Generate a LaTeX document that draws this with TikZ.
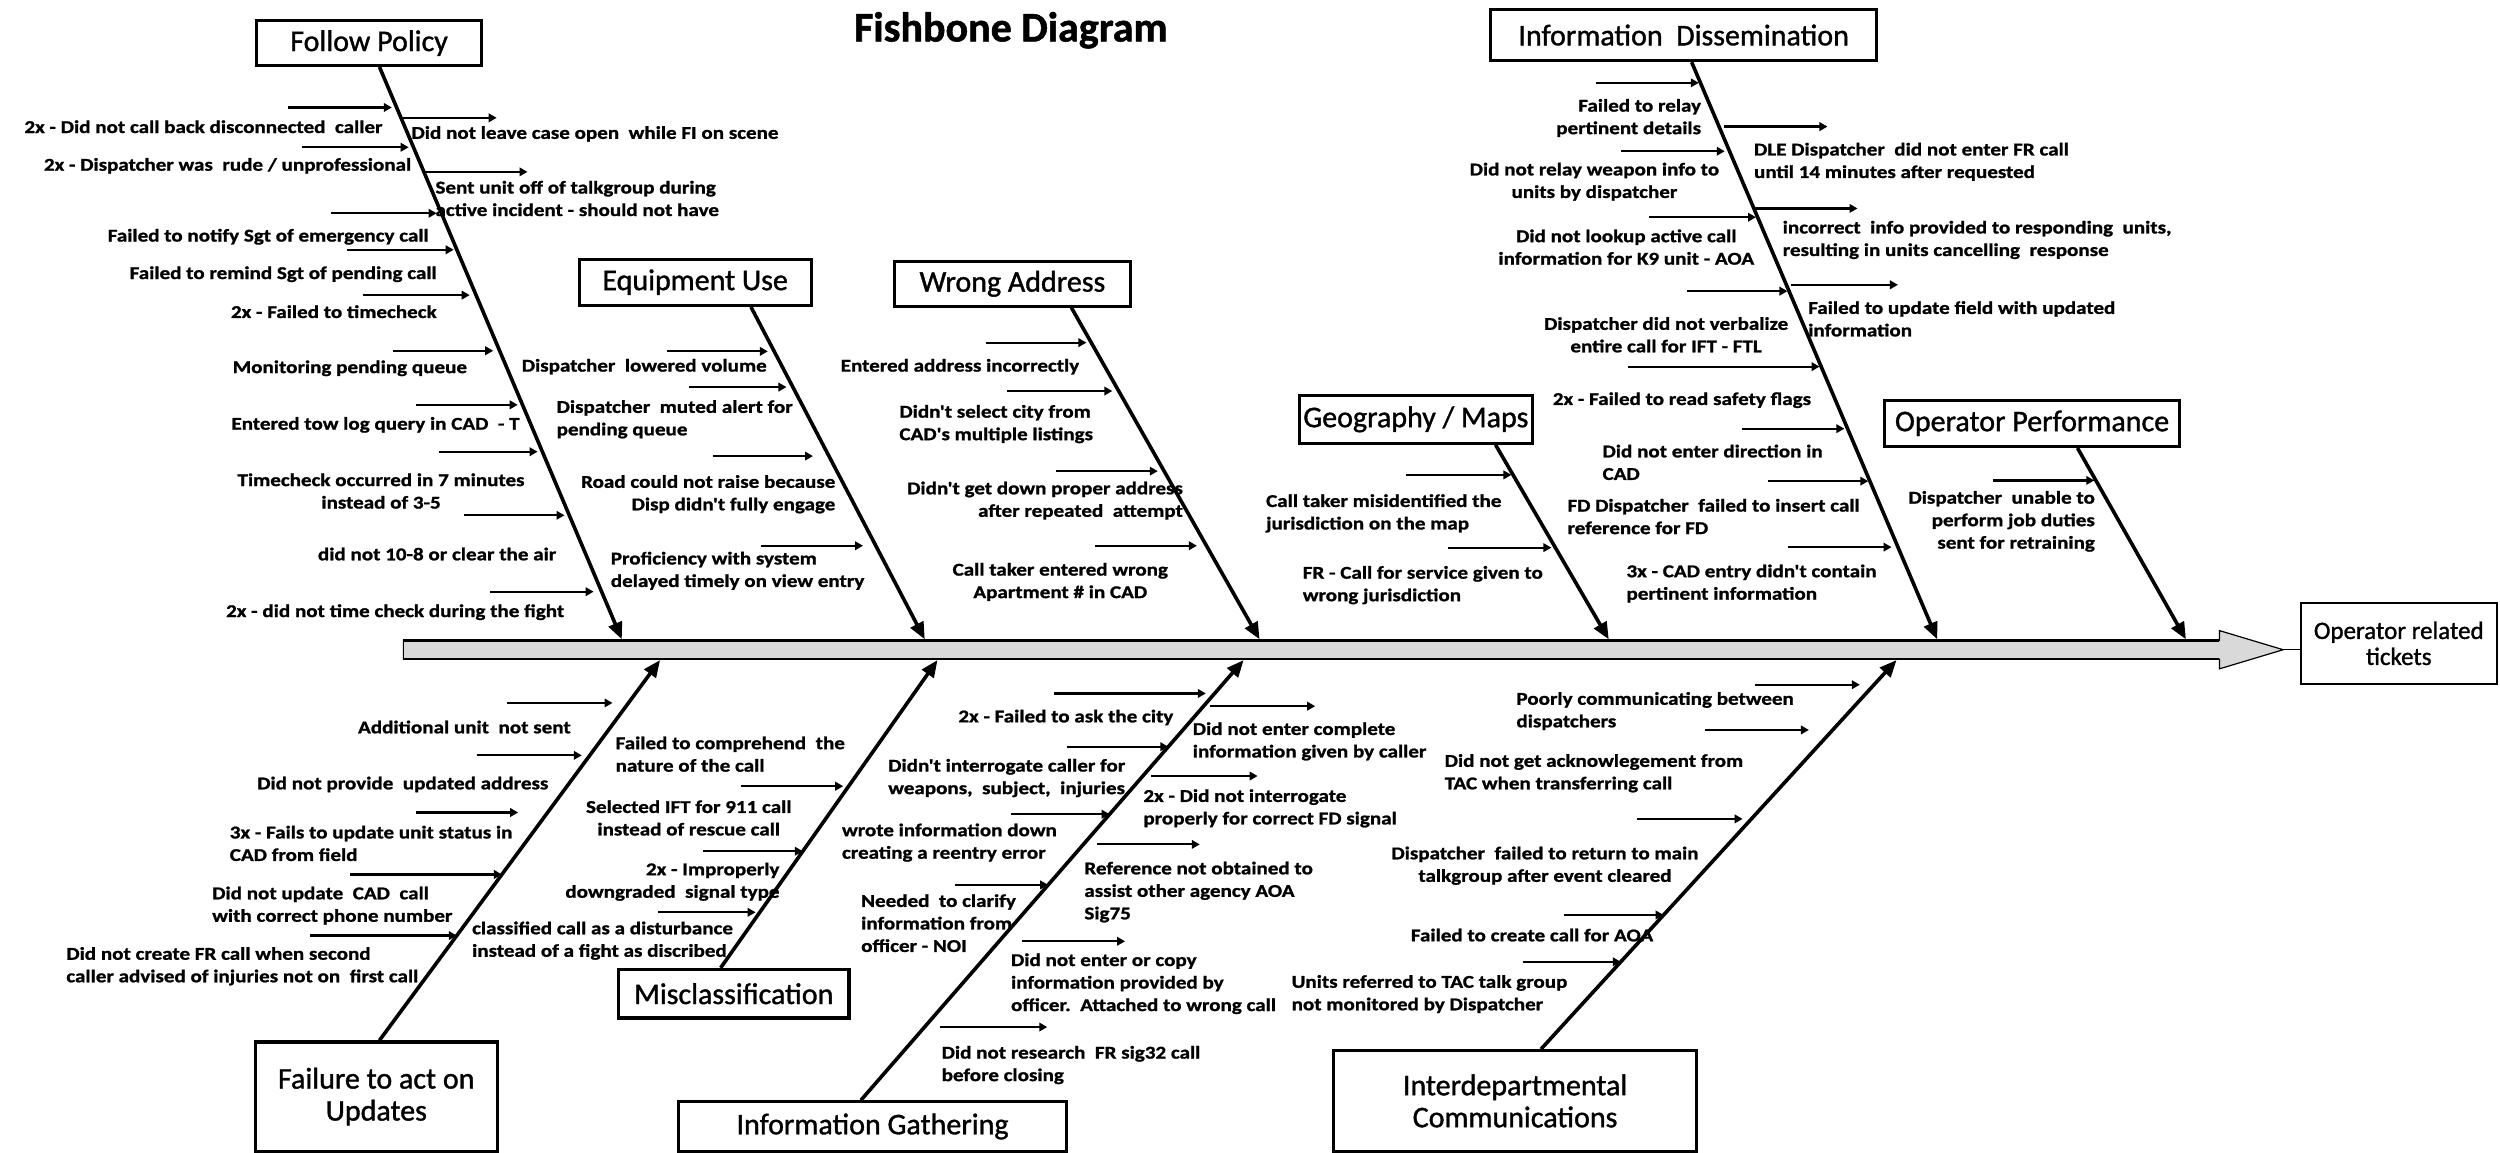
\documentclass[tikz,border=0pt]{standalone}
\usepackage{fontspec}
\setmainfont{Carlito}
\newfontfamily\lblf{Carlito}[FakeStretch=1.17,FakeBold=1.2]
\newfontfamily\boxf{Carlito}[FakeBold=1.2]
\usetikzlibrary{arrows.meta,calc}
\newcommand\ribl[4]{\draw[rib] ($(#1)!#2!(#1e)+(-#3,0)$) -- ($(#1)!#2!(#1e)+(-#4,0)$);}
\newcommand\ribr[4]{\draw[rib] ($(#1)!#2!(#1e)+(#3,0)$) -- ($(#1)!#2!(#1e)+(#4,0)$);}
\begin{document}
\begin{tikzpicture}[x=1.5944pt, y=-1.5944pt,
  bone/.style={line width=3.6pt, -{Triangle[length=17pt,width=14pt]}},
  rib/.style={line width=2.2pt, -{Triangle[length=8pt,width=8.5pt]}},
  box/.style={draw, line width=3.2pt, inner sep=0pt, font=\boxf\fontsize{30}{32}\selectfont, align=center},
  lbl/.style={inner sep=0pt, font=\lblf\bfseries\fontsize{18}{22.5}\selectfont},
  lblL/.style={lbl, anchor=west, align=left},
  lblR/.style={lbl, anchor=east, align=right},
  lblC/.style={lbl, anchor=center, align=center}]
\useasboundingbox (0,0) rectangle (1568,723);

% title
\node[font=\boxf\bfseries\fontsize{42}{46}\selectfont] (title) at (634,19) {Fishbone Diagram};

% spine
\coordinate (spineL) at (253,407.5);
\coordinate (tip) at (1432,407.5);
\path[fill=gray!30, draw=black, line width=1.2pt] (253,401.5) -- (1392,401.5) -- (1392,395.5) -- (tip) -- (1392,419.5) -- (1392,413.5) -- (253,413.5) -- cycle;
\draw[line width=3pt] (253,401.5) -- (1392,401.5);
\draw[line width=1.8pt] (253,413.5) -- (1392,413.5);

% boxes
\node[box, minimum width=224.8pt, minimum height=44.6pt] (FP) at (231.5,27) {Follow Policy};
\node[box, minimum width=232pt, minimum height=46.2pt] (EU) at (436,177) {Equipment Use};
\node[box, minimum width=236pt, minimum height=44.6pt] (WA) at (635,178) {Wrong Address};
\node[box, minimum width=385.8pt, minimum height=51pt] (ID) at (1056,22) {Information\ \ Dissemination};
\node[box, minimum width=232.8pt, minimum height=47.8pt] (GM) at (888,263) {Geography / Maps};
\node[box, minimum width=295pt, minimum height=46.2pt] (OP) at (1274.5,265.5) {Operator Performance};
\node[box, line width=1.8pt, font=\boxf\fontsize{25}{26}\selectfont, minimum width=196pt, minimum height=81.3pt] (ORT) at (1504.5,403.5) {Operator related\\tickets};
\node[box, minimum width=242.3pt, minimum height=109.2pt] (FAU) at (236,687.75) {Failure to act on\\Updates};
\node[box, minimum width=230.4pt, minimum height=48.6pt] (MC) at (460.25,623.25) {Misclassification};
\node[box, minimum width=388.2pt, minimum height=49.4pt] (IG) at (547.25,706.5) {Information Gathering};
\node[box, minimum width=362.7pt, minimum height=100.4pt] (IC) at (950.25,690.5) {Interdepartmental\\Communications};

\draw[line width=1.2pt] (tip) -- (tip -| ORT.west);

% bone coordinates
\coordinate (fp) at ($(FP.south)+(6.5,0)$);   \coordinate (fpe) at (390,401);
\coordinate (eu) at ($(EU.south)+(35,0)$);    \coordinate (eue) at (580,401);
\coordinate (wa) at ($(WA.south)+(37,0)$);    \coordinate (wae) at (790,401);
\coordinate (id) at ($(ID.south)+(5,0)$);     \coordinate (ide) at (1215,401);
\coordinate (gm) at ($(GM.south)+(50,0)$);    \coordinate (gme) at (1009,401);
\coordinate (op) at ($(OP.south)+(28.5,0)$);  \coordinate (ope) at (1371,401);
\coordinate (fau) at ($(FAU.north)+(2,0)$);   \coordinate (faue) at (414,414);
\coordinate (mc) at ($(MC.north)+(-8.25,0)$); \coordinate (mce) at (588,414);
\coordinate (ig) at ($(IG.north)+(-7.25,0)$); \coordinate (ige) at (780,414);
\coordinate (ic) at ($(IC.north)+(16.25,0)$); \coordinate (ice) at (1189.5,414);

\foreach \b in {fp,eu,wa,id,gm,op,fau,mc,ig,ic} \draw[bone] (\b) -- (\b e);

% ribs
\ribl{fp}{0.0708}{68}{3}
\ribl{fp}{0.1403}{70}{3}
\ribl{fp}{0.2556}{69}{3}
\ribl{fp}{0.3194}{69}{2}
\ribl{fp}{0.3986}{71}{4}
\ribl{fp}{0.4958}{67}{4}
\ribl{fp}{0.5903}{67}{3}
\ribl{fp}{0.6722}{65}{3}
\ribl{fp}{0.7833}{66}{3}
\ribl{fp}{0.9167}{70}{5}
\ribr{fp}{0.0889}{1}{60}
\ribr{fp}{0.1833}{1}{65}
\ribl{eu}{0.1337}{67}{4}
\ribl{eu}{0.2411}{65}{4}
\ribl{eu}{0.4487}{73}{10}
\ribl{eu}{0.7184}{72}{8}
\ribl{wa}{0.1053}{66}{3}
\ribl{wa}{0.2512}{70}{4}
\ribl{wa}{0.4928}{68}{4}
\ribl{wa}{0.7177}{70}{6}
\ribl{id}{0.0358}{65.5}{1}
\ribl{id}{0.1543}{68}{3}
\ribl{id}{0.2686}{68}{1}
\ribl{id}{0.3967}{64}{1}
\ribl{id}{0.5275}{121}{1}
\ribl{id}{0.6350}{66}{2}
\ribl{id}{0.7259}{64}{1}
\ribl{id}{0.8402}{69}{4}
\ribr{id}{0.1116}{3}{68}
\ribr{id}{0.2534}{0}{65}
\ribr{id}{0.3857}{3}{70}
\ribl{gm}{0.1545}{67}{1}
\ribl{gm}{0.5285}{67.5}{2.5}
\ribl{op}{0.1694}{64.5}{1}
\ribl{fau}{0.8873}{76}{10}
\ribl{fau}{0.7495}{71}{5}
\ribl{fau}{0.5992}{82.5}{18.5}
\ribl{fau}{0.4363}{95}{0}
\ribl{fau}{0.2756}{92}{0}
\ribl{mc}{0.5902}{67.4}{3.4}
\ribl{mc}{0.3789}{62.6}{0}
\ribl{mc}{0.1804}{63.6}{2.6}
\ribl{ig}{0.9242}{101}{5.5}
\ribl{ig}{0.8032}{63.6}{0}
\ribl{ig}{0.6498}{61.6}{0}
\ribl{ig}{0.4892}{58.4}{0}
\ribr{ig}{0.8953}{4}{70}
\ribr{ig}{0.7365}{5}{72}
\ribr{ig}{0.5812}{8.5}{73}
\ribr{ig}{0.361}{14.5}{79}
\ribr{ig}{0.1661}{9.5}{77}
\ribl{ic}{0.9367}{74.4}{8.9}
\ribl{ic}{0.8204}{80.4}{14.9}
\ribl{ic}{0.5918}{71.5}{5.5}
\ribl{ic}{0.3449}{62.4}{0}
\ribl{ic}{0.2245}{61.6}{0}

% labels: Follow Policy
\node[lblR] (t1) at (240,79.5) {2x - Did not call back disconnected\ \ caller};
\node[lblL] (t2) at (258,84) {Did not leave case open\ \ while FI on scene};
\node[lblR] (t3) at (258,104) {2x - Dispatcher was\ \ rude / unprofessional};
\node[lblL] (t4) at (273,124.5) {Sent unit off of talkgroup during\\active incident - should not have};
\node[lblR] (t5) at (269,148.5) {Failed to notify Sgt of emergency call};
\node[lblR] (t6) at (274,172) {Failed to remind Sgt of pending call};
\node[lblR] (t7) at (274,195.5) {2x - Failed to timecheck};
\node[lblR] (t8) at (293,231) {Monitoring pending queue};
\node[lblR] (t9) at (326,266.5) {Entered tow log query in CAD\ \ - T};
\node[lblC] (t10) at (239,308) {Timecheck occurred in 7 minutes\\instead of 3-5};
\node[lblR] (t11) at (349,347.5) {did not 10-8 or clear the air};
\node[lblR] (t12) at (354,384) {2x - did not time check during the fight};
% Equipment Use
\node[lblR] (t13) at (481,230) {Dispatcher\ \ lowered volume};
\node[lblL] (t14) at (349,263) {Dispatcher\ \ muted alert for\\pending queue};
\node[lblR] (t15) at (524,310) {Road could not raise because\\Disp didn't fully engage};
\node[lblL] (t16) at (383,358) {Proficiency with system\\delayed timely on view entry};
% Wrong Address
\node[lblR] (t17) at (677,230) {Entered address incorrectly};
\node[lblL] (t18) at (564,266) {Didn't select city from\\CAD's multiple listings};
\node[lblR] (t19) at (742,314) {Didn't get down proper address\\after repeated\ \ attempt};
\node[lblC] (t20) at (665,365) {Call taker entered wrong\\Apartment \# in CAD};
% Information Dissemination
\node[lblR] (t21) at (1067,74) {Failed to relay\\pertinent details};
\node[lblL] (t22) at (1100,101.5) {DLE Dispatcher\ \ did not enter FR call\\until 14 minutes after requested};
\node[lblC] (t23) at (1000,114) {Did not relay weapon info to\\units by dispatcher};
\node[lblL] (t24) at (1118,150.5) {incorrect\ \ info provided to responding\ \ units,\\resulting in units cancelling\ \ response};
\node[lblC] (t25) at (1020,155) {Did not lookup active call\\information for K9 unit - AOA};
\node[lblL] (t26) at (1134,200) {Failed to update field with updated\\information};
\node[lblC] (t27) at (1045,210) {Dispatcher did not verbalize\\entire call for IFT - FTL};
\node[lblR] (t28) at (1136,251) {2x - Failed to read safety flags};
\node[lblL] (t29) at (1005,290) {Did not enter direction in\\CAD};
\node[lblL] (t30) at (983,324) {FD Dispatcher\ \ failed to insert call\\reference for FD};
\node[lblL] (t31) at (1020,366) {3x - CAD entry didn't contain\\pertinent information};
% Geography / Maps
\node[lblL] (t32) at (794,322) {Call taker misidentified the\\jurisdiction on the map};
\node[lblL] (t33) at (817,367) {FR - Call for service given to\\wrong jurisdiction};
% Operator Performance
\node[lblR] (t34) at (1314,327) {Dispatcher\ \ unable to\\perform job duties\\sent for retraining};
% Failure to act on Updates
\node[lblR] (t35) at (358,456) {Additional unit\ \ not sent};
\node[lblR] (t36) at (344,492) {Did not provide\ \ updated address};
\node[lblL] (t37) at (144,529) {3x - Fails to update unit status in\\CAD from field};
\node[lblL] (t38) at (133,568) {Did not update\ \ CAD\ \ call\\with correct phone number};
\node[lblL] (t39) at (41.5,606) {Did not create FR call when second\\caller advised of injuries not on\ \ first call};
% Misclassification
\node[lblL] (t40) at (386,473) {Failed to comprehend\ \ the\\nature of the call};
\node[lblC] (t41) at (432,513) {Selected IFT for 911 call\\instead of rescue call};
\node[lblR] (t42) at (489,553) {2x - Improperly\\downgraded\ \ signal type};
\node[lblL] (t43) at (296,590) {classified call as a disturbance\\instead of a fight as discribed};
% Information Gathering
\node[lblR] (t44) at (736,450) {2x - Failed to ask the city};
\node[lblL] (t45) at (557,488) {Didn't interrogate caller for\\weapons,\ \ subject,\ \ injuries};
\node[lblL] (t46) at (528,528.5) {wrote information down\\creating a reentry error};
\node[lblL] (t47) at (540,579) {Needed\ \ to clarify\\information from\\officer - NOI};
\node[lblL] (t48) at (748,465) {Did not enter complete\\information given by caller};
\node[lblL] (t49) at (717,507) {2x - Did not interrogate\\properly for correct FD signal};
\node[lblL] (t50) at (680,559.5) {Reference not obtained to\\assist other agency AOA\\Sig75};
\node[lblL] (t51) at (634,617) {Did not enter or copy\\information provided by\\officer.\ \ Attached to wrong call};
\node[lblL] (t52) at (590.5,668) {Did not research\ \ FR sig32 call\\before closing};
% Interdepartmental Communications
\node[lblL] (t53) at (951,446) {Poorly communicating between\\dispatchers};
\node[lblL] (t54) at (906,485) {Did not get acknowlegement from\\TAC when transferring call};
\node[lblC] (t55) at (969,543) {Dispatcher\ \ failed to return to main\\talkgroup after event cleared};
\node[lblR] (t56) at (1037,586.5) {Failed to create call for AOA};
\node[lblL] (t57) at (810,623.5) {Units referred to TAC talk group\\not monitored by Dispatcher};
\end{tikzpicture}
\end{document}
